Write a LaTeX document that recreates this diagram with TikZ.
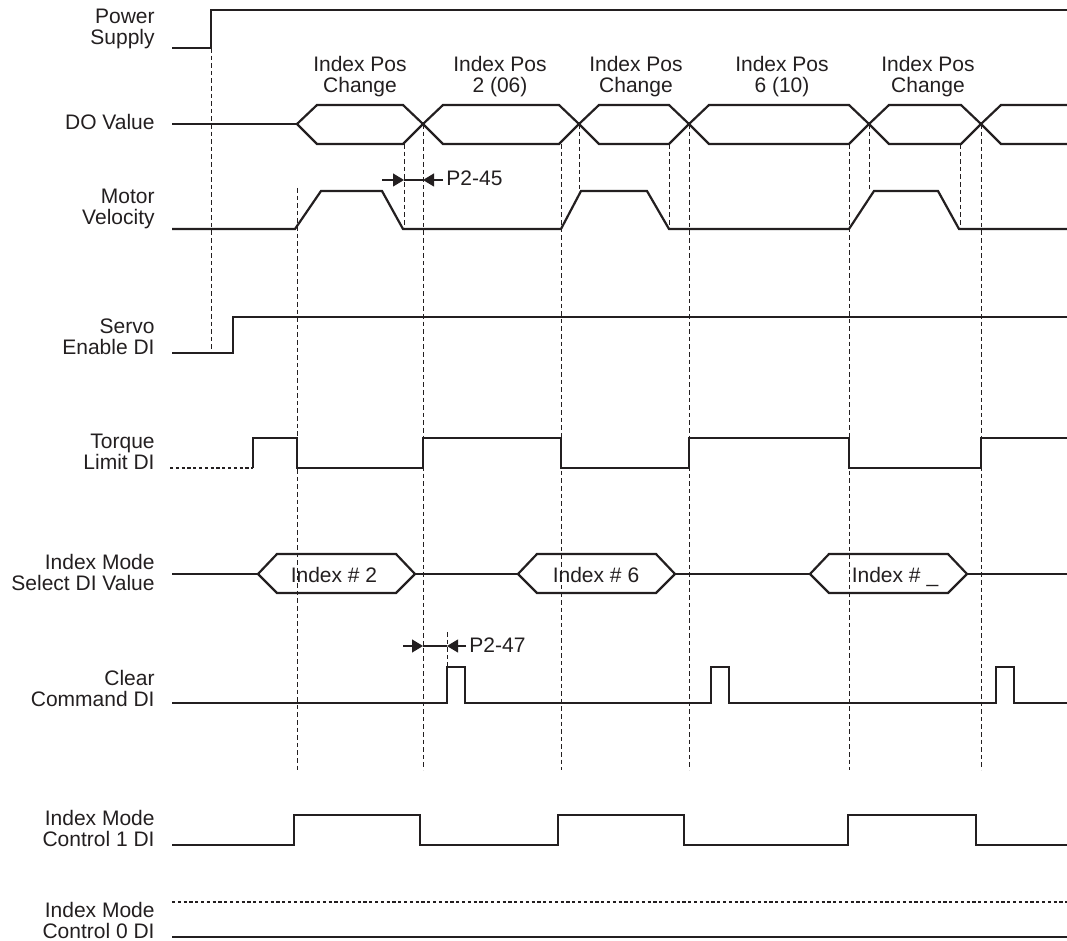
\documentclass[tikz,border=0pt]{standalone}
\usepackage{fontspec}
\setmainfont{Liberation Sans}
\definecolor{signalink}{RGB}{35,31,32}
\usetikzlibrary{arrows.meta,positioning}

\begin{document}
\begin{tikzpicture}[x=0.5pt, y=-0.5pt, font=\fontsize{10.5}{10.5}\selectfont,
    every node/.style={inner sep=0pt, text=signalink},
    sig/.style={signalink, line width=1.1pt},
    dotsig/.style={signalink, line width=1pt, dash pattern=on 1.6pt off 1.3pt},
    guide/.style={signalink, line width=0.5pt, dash pattern=on 2.3pt off 1.5pt},
    dim/.style={signalink, line width=0.6pt},
    tip/.style={-{Triangle[length=5.5pt,width=6.5pt]}}]
  \useasboundingbox (0,0) rectangle (1067,941);

  \foreach \nm/\y/\lbl in {
    power/9/Power\\Supply,
    dov/114/DO Value,
    vel/189/Motor\\Velocity,
    servo/318/Servo\\Enable DI,
    torque/434/Torque\\Limit DI,
    select/554/Index Mode\\Select DI Value,
    clear/670/Clear\\Command DI,
    ctrla/810/Index Mode\\Control 1 DI,
    ctrlb/902/Index Mode\\Control 0 DI}
  {
    \node[anchor=north east, align=right] (lbl\nm) at (155,\y) {\lbl};
  }

  \foreach \nm/\x/\lbl in {
    chga/360/Index Pos\\Change,
    posa/500/Index Pos\\2 (06),
    chgb/636/Index Pos\\Change,
    posb/782/Index Pos\\6 (10),
    chgc/928/Index Pos\\Change}
  {
    \node[anchor=north, align=center] (top\nm) at (\x,56) {\lbl};
  }

  \foreach \x/\ya/\yb in {211/48/352, 297/188/770, 404/144/229, 423/124/770,
                          561/144/770, 579/124/190, 669/144/229, 689/124/770,
                          849/144/770, 869/124/190, 960/144/229, 981/124/770,
                          447/632/667}
    \draw[guide] (\x,\ya) -- (\x,\yb);

  \draw[sig] (172,48) -- (211,48) -- (211,10) -- (1067,10);

  \draw[sig] (172,124) -- (297,124);
  \foreach \a/\b in {297/423, 423/579, 579/689, 689/869, 869/981}
    \draw[sig] (\a,124) -- ({\a+20},105) -- ({\b-20},105) -- (\b,124)
               -- ({\b-20},144) -- ({\a+20},144) -- cycle;
  \draw[sig] (1067,105) -- (1001,105) -- (981,124) -- (1001,144) -- (1067,144);

  \draw[sig] (172,229) -- (295,229) -- (321,191) -- (382,191) -- (403,229)
    -- (561,229) -- (581,191) -- (647,191) -- (669,229)
    -- (849,229) -- (874,191) -- (938,191) -- (959,229) -- (1067,229);

  \coordinate (p45a) at (382,180);
  \coordinate (p45b) at (404,180);
  \coordinate (p45c) at (423,180);
  \coordinate (p45d) at (443,180);
  \draw[dim,tip] (p45a) -- (p45b);
  \draw[dim] (p45b) -- (p45c);
  \draw[dim,tip] (p45d) -- (p45c);
  \node[anchor=base west] (txt45) at (446,186) {P2-45};

  \draw[sig] (172,353) -- (233,353) -- (233,317) -- (1067,317);

  \draw[dotsig] (170,468) -- (253,468);
  \draw[sig] (253,468) -- (253,438) -- (297,438) -- (297,468) -- (423,468)
    -- (423,438) -- (561,438) -- (561,468) -- (689,468) -- (689,438)
    -- (849,438) -- (849,468) -- (981,468) -- (981,438) -- (1067,438);

  \draw[sig] (172,574) -- (258,574) (415,574) -- (518,574)
             (675,574) -- (810,574) (967,574) -- (1067,574);
  \foreach \nm/\a/\b/\tx/\lbl in {a/258/415/334/Index \# 2,
                                   b/518/675/596/Index \# 6,
                                   c/810/967/895/Index \# \_}
  {
    \draw[sig] (\a,574) -- ({\a+19},554) -- ({\b-19},554) -- (\b,574)
               -- ({\b-19},593) -- ({\a+19},593) -- cycle;
    \node[anchor=base] (sel\nm) at (\tx,582) {\lbl};
  }

  \coordinate (p47a) at (403,646);
  \coordinate (p47b) at (423,646);
  \coordinate (p47c) at (447,646);
  \coordinate (p47d) at (466,646);
  \draw[dim,tip] (p47a) -- (p47b);
  \draw[dim] (p47b) -- (p47c);
  \draw[dim,tip] (p47d) -- (p47c);
  \node[anchor=base west] (txt47) at (469,653) {P2-47};

  \draw[sig] (172,703) -- (447,703) -- (447,667) -- (465,667) -- (465,703)
    -- (711,703) -- (711,667) -- (729,667) -- (729,703)
    -- (996,703) -- (996,667) -- (1014,667) -- (1014,703) -- (1067,703);

  \draw[sig] (172,845) -- (294,845) -- (294,815) -- (420,815) -- (420,845)
    -- (558,845) -- (558,815) -- (684,815) -- (684,845)
    -- (848,845) -- (848,815) -- (976,815) -- (976,845) -- (1067,845);

  \draw[dotsig] (172,902) -- (1067,902);
  \draw[sig] (172,937) -- (1067,937);
\end{tikzpicture}
\end{document}
